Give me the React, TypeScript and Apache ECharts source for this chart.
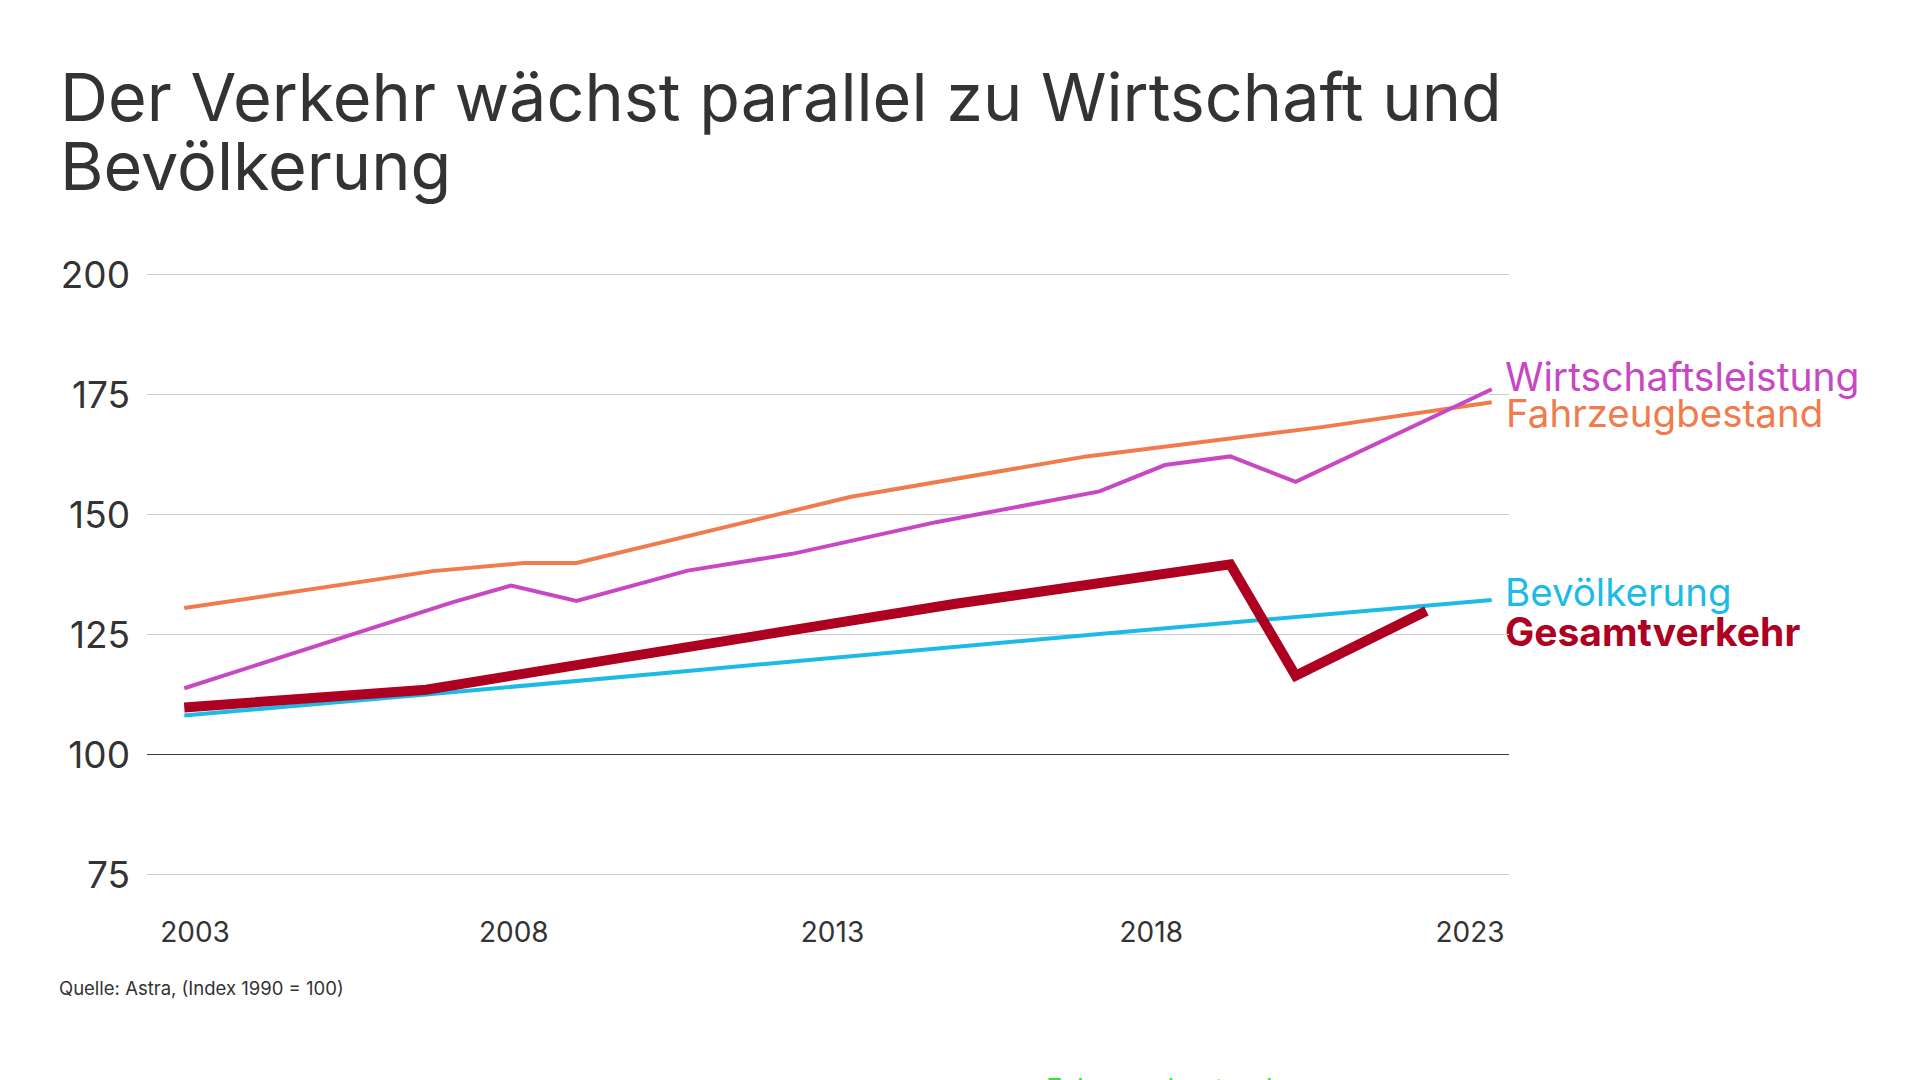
import React, { useEffect, useRef } from 'react';
import * as echarts from 'echarts';

const TITLE_LINES = ['Der Verkehr wächst parallel zu Wirtschaft und', 'Bevölkerung'];
const SOURCE = 'Quelle: Astra, (Index 1990 = 100)';
const X_LABEL_YEARS = [2003, 2008, 2013, 2018, 2023];
const Y_MIN = 75;
const Y_MAX = 200;
const Y_STEP = 25;

const SERIES_NAMES = ['Fahrzeugbestand', 'Wirtschaftsleistung', 'Bevölkerung', 'Gesamtverkehr'];
const SERIES_COLORS = ['#f07b4c', '#c847c3', '#1cbbe7', '#ae0020'];

const fahrzeug: [number, number][] = [
  [2003, 130.4], [2006.8, 138.1], [2008.2, 139.8], [2009, 139.8],
  [2013.2, 153.6], [2016.8, 162.0], [2020.4, 168.1], [2023, 173.3],
];
const wirtschaft: [number, number][] = [
  [2003, 113.7], [2007.1, 131.6], [2008, 135.1], [2009, 131.9],
  [2010.7, 138.2], [2012.3, 141.7], [2014.5, 148.3], [2017, 154.7],
  [2018, 160.2], [2019, 162.0], [2020, 156.7], [2023, 176.0],
];
const bevoelkerung: [number, number][] = [
  [2003, 108.0], [2006.7, 112.4], [2010.7, 117.3], [2017, 125.0], [2023, 132.1],
];
const gesamt: [number, number][] = [
  [2003, 109.7], [2006.7, 113.4], [2009.8, 120.3], [2014.8, 131.3],
  [2019, 139.5], [2020, 116.3], [2022, 129.8],
];

const FONT = 'Inter, "Noto Sans", sans-serif';

export default function App() {
  const ref = useRef<HTMLDivElement>(null);

  useEffect(() => {
    if (!ref.current) return;
    const chart = echarts.init(ref.current, undefined, { renderer: 'svg' });
    const datasets = [fahrzeug, wirtschaft, bevoelkerung, gesamt];
    const widths = [4, 4, 4, 10];

    const option: any = {
      animation: false,
      backgroundColor: '#ffffff',
      grid: { left: 147, right: 411, top: 274, bottom: 206, containLabel: false },
      xAxis: [
        {
          type: 'value',
          min: 2002.43,
          max: 2023.264,
          show: false,
        },
        {
          type: 'value',
          min: 2002.247,
          max: 2023.612,
          position: 'bottom',
          axisLine: { show: false },
          axisTick: { show: false },
          splitLine: { show: false },
          axisLabel: {
            customValues: X_LABEL_YEARS,
            color: '#333333',
            fontSize: 28,
            fontFamily: FONT,
            margin: 44,
            formatter: (v: number) => String(v),
          },
        },
      ],
      yAxis: {
        type: 'value',
        min: Y_MIN,
        max: Y_MAX,
        interval: Y_STEP,
        axisLine: { show: false },
        axisTick: { show: false },
        axisLabel: {
          color: '#333333',
          fontSize: 37,
          fontFamily: FONT,
          margin: 17,
        },
        splitLine: {
          show: true,
          lineStyle: {
            color: ['#cccccc', '#3a3a3a', '#cccccc', '#cccccc', '#cccccc', '#cccccc'],
            width: 1.2,
          },
        },
      },
      series: datasets.map((d, i) => ({
        name: SERIES_NAMES[i],
        type: 'line',
        xAxisIndex: 0,
        data: d,
        symbol: 'none',
        silent: true,
        lineStyle: { color: SERIES_COLORS[i], width: widths[i], join: 'miter', cap: 'butt' },
        z: 2 + i,
      })),
      graphic: [
        {
          type: 'text',
          left: 60,
          top: 62,
          style: {
            text: TITLE_LINES.join('\n'),
            fill: '#333333',
            font: `400 66.5px ${FONT}`,
            lineHeight: 69,
          },
        },
        {
          type: 'text',
          x: 1505,
          y: 376,
          style: { text: SERIES_NAMES[1], fill: SERIES_COLORS[1], font: `400 39px ${FONT}`, verticalAlign: 'middle' },
        },
        {
          type: 'text',
          x: 1506,
          y: 412.5,
          style: { text: SERIES_NAMES[0], fill: SERIES_COLORS[0], font: `400 38.5px ${FONT}`, verticalAlign: 'middle' },
        },
        {
          type: 'text',
          x: 1505,
          y: 592,
          style: { text: SERIES_NAMES[2], fill: SERIES_COLORS[2], font: `400 38.5px ${FONT}`, verticalAlign: 'middle' },
        },
        {
          type: 'text',
          x: 1505,
          y: 631,
          style: { text: SERIES_NAMES[3], fill: SERIES_COLORS[3], font: `700 39px ${FONT}`, verticalAlign: 'middle' },
        },
        {
          type: 'text',
          x: 59,
          y: 988,
          style: { text: SOURCE, fill: '#333333', font: `400 18.5px ${FONT}`, verticalAlign: 'middle' },
        },
        {
          type: 'text',
          x: 1046,
          y: 1088,
          style: { text: SERIES_NAMES[0], fill: '#3fdc3f', font: `400 27.5px ${FONT}`, verticalAlign: 'middle' },
        },
      ],
    };

    chart.setOption(option);
    return () => chart.dispose();
  }, []);

  return (
    <div
      ref={ref}
      style={{ position: 'absolute', left: 0, top: 0, width: 1920, height: 1080, background: '#fff', overflow: 'hidden' }}
    />
  );
}
